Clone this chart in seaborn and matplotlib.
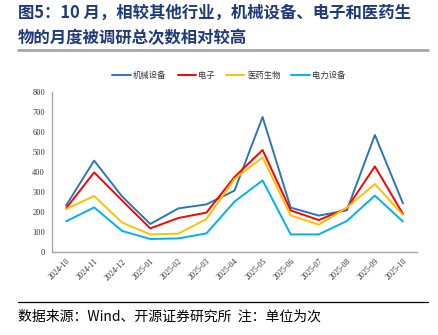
import matplotlib
matplotlib.use("Agg")
import matplotlib.pyplot as plt
import seaborn as sns
import pandas as pd
import numpy as np
from matplotlib.lines import Line2D

months = ["2024-10", "2024-11", "2024-12", "2025-01", "2025-02", "2025-03", "2025-04",
          "2025-05", "2025-06", "2025-07", "2025-08", "2025-09", "2025-10"]
machinery = [232, 457, 277, 140, 218, 238, 307, 675, 222, 182, 208, 585, 243]
electronics = [218, 398, 257, 118, 170, 197, 375, 510, 208, 160, 218, 428, 190]
pharma = [215, 280, 147, 88, 92, 165, 365, 473, 183, 137, 222, 340, 185]
power_equip = [153, 223, 105, 65, 68, 93, 252, 358, 88, 88, 155, 282, 152]

series_names = ["机械设备", "电子", "医药生物", "电力设备"]
series_values = [machinery, electronics, pharma, power_equip]
colors = ["#2E75B6", "#FF0000", "#FFC000", "#00B0F0"]

sns.set_theme(style="white")
plt.rcParams["font.family"] = ["Noto Sans CJK SC", "DejaVu Sans"]

rows = []
for name, vals in zip(series_names, series_values):
    for i, v in enumerate(vals):
        rows.append({"idx": i, "value": v, "series": name})
df = pd.DataFrame(rows)

fig = plt.figure(figsize=(4.38, 3.35), dpi=100)
ax = fig.add_axes([52 / 438, 1 - 252 / 335, 365 / 438, 160 / 335])

sns.lineplot(data=df, x="idx", y="value", hue="series", palette=colors,
             hue_order=series_names, linewidth=1.4, ax=ax, legend=False)

ax.set_xlim(-0.5, len(months) - 0.5)
ax.set_ylim(0, 800)
ax.set_yticks(range(0, 801, 100))
ax.set_yticklabels([str(v) for v in range(0, 801, 100)],
                   fontfamily="Liberation Serif", fontsize=6, color="#333333")
ax.set_xticks(np.arange(-0.5, len(months), 1.0))
ax.set_xticklabels([])
ax.set_xticks(np.arange(len(months)), minor=True)
ax.set_xticklabels(months, minor=True, rotation=45, ha="right", rotation_mode="anchor",
                   fontfamily="Liberation Serif", fontsize=5.8, color="#333333")
ax.tick_params(axis="x", which="major", direction="in", length=3, color="#808080", width=0.8)
ax.tick_params(axis="x", which="minor", length=0, pad=4)
ax.tick_params(axis="y", which="major", direction="out", length=2, color="#808080", width=0.8, pad=3)
ax.set_xlabel("")
ax.set_ylabel("")
for s in ["top", "right"]:
    ax.spines[s].set_visible(False)
for s in ["left", "bottom"]:
    ax.spines[s].set_color("#A6A6A6")
    ax.spines[s].set_linewidth(1.0)

# legend
handles = [Line2D([0], [0], color=c, lw=1.4) for c in colors]
leg = fig.legend(handles, series_names, loc="center", bbox_to_anchor=(229 / 438, 1 - 75 / 335),
                 ncol=4, frameon=False, fontsize=6, handlelength=2.2, columnspacing=1.3,
                 handletextpad=0.3)
for t in leg.get_texts():
    t.set_color("#333333")

# title
title_color = "#1F3A7A"
fig.text(18 / 438, 1 - 13 / 335, "图5：10 月，相较其他行业，机械设备、电子和医药生",
         fontsize=11.8, fontweight="bold", color=title_color, va="center", ha="left")
fig.text(18 / 438, 1 - 38 / 335, "物的月度被调研总次数相对较高",
         fontsize=11.8, fontweight="bold", color=title_color, va="center", ha="left")
fig.add_artist(Line2D([18 / 438, 428 / 438], [1 - 50 / 335, 1 - 50 / 335],
                      color="#A6A6A6", lw=2.0, transform=fig.transFigure))

# footer
fig.add_artist(Line2D([18 / 438, 428 / 438], [1 - 302 / 335, 1 - 302 / 335],
                      color="#000000", lw=0.9, transform=fig.transFigure))
fig.text(18 / 438, 1 - 317 / 335, "数据来源：Wind、开源证券研究所  注：单位为次",
         fontsize=10, color="#000000", va="center", ha="left")

fig.savefig("out.png", dpi=100)
